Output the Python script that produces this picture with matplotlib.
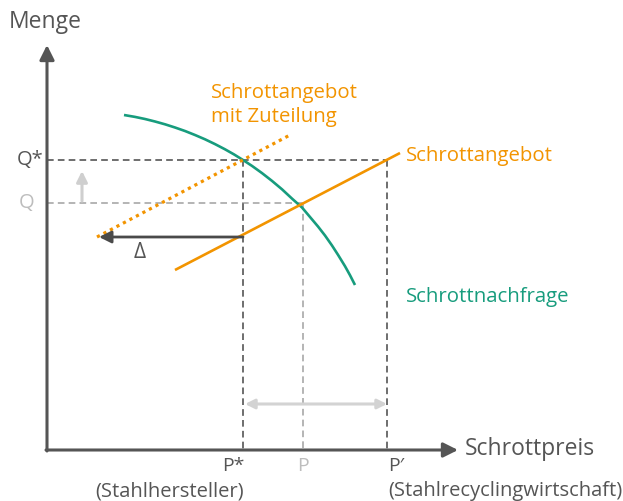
import matplotlib
matplotlib.use("Agg")
import matplotlib.pyplot as plt

plt.rcParams['font.family'] = ['Open Sans', 'DejaVu Sans']

# ---- data (read in picture pixel coordinates: x right, y down) ----
axis_origin = (47, 450)
axis_x_end = 458
axis_y_end = 45

price_labels = ["P*", "P", "P\u2032"]
price_x = [243, 303, 387]
qty_labels = ["Q*", "Q"]
qty_y = [160, 203]

supply_x = [175, 400]
supply_y = [270, 153]
supply_alloc_x = [97, 290]
supply_alloc_y = [237, 135]

demand_x = [124, 135, 145, 155, 165, 175, 185, 195, 205, 215, 225, 234, 243,
            252, 262, 272, 282, 292, 302, 310, 318, 325, 332, 338, 345, 350, 355]
demand_y = [115.0, 116.9, 119.0, 121.5, 124.3, 127.5, 131.0, 135.0, 139.3, 144.1,
            149.3, 154.4, 160.0, 165.9, 173.1, 180.9, 189.3, 198.6, 207.5, 217.0,
            226.5, 235.5, 245.5, 254.8, 266.2, 275.2, 285.0]

delta_y = 237
delta_from_x = 243
delta_to_x = 99
shift_arrow_x = 82
shift_arrow_y = [201, 171]
range_arrow_y = 404
range_arrow_x = [245, 387]

ORANGE = "#F29400"
GREEN = "#179C7D"
DARK = "#555555"
LIGHT = "#BDBDBD"

fig = plt.figure(figsize=(6.23, 5.01), dpi=100)
ax = fig.add_axes([0, 0, 1, 1])
ax.set_xlim(0, 623)
ax.set_ylim(501, 0)
ax.axis("off")

ox, oy = axis_origin
# axes with arrows
ax.annotate("", xy=(ox, axis_y_end), xytext=(ox, oy + 1),
            arrowprops=dict(arrowstyle="-|>", color=DARK, lw=2.2, mutation_scale=22,
                            shrinkA=0, shrinkB=0))
ax.annotate("", xy=(axis_x_end, oy), xytext=(ox - 1, oy),
            arrowprops=dict(arrowstyle="-|>", color=DARK, lw=2.2, mutation_scale=22,
                            shrinkA=0, shrinkB=0))
ax.text(9, 22, "Menge", fontsize=16.5, color=DARK, ha="left", va="center")
ax.text(465, 449, "Schrottpreis", fontsize=16.5, color=DARK, ha="left", va="center")

# guide lines
ax.plot([ox, price_x[2]], [qty_y[0], qty_y[0]], ls=(0, (4, 2.5)), color=DARK, lw=1.2)
ax.plot([ox, price_x[1]], [qty_y[1], qty_y[1]], ls=(0, (4, 2.5)), color="#A8A8A8", lw=1.2)
ax.plot([price_x[0], price_x[0]], [qty_y[0], oy], ls=(0, (4, 2.5)), color=DARK, lw=1.2)
ax.plot([price_x[1], price_x[1]], [qty_y[1], oy], ls=(0, (4, 2.5)), color="#A8A8A8", lw=1.2)
ax.plot([price_x[2], price_x[2]], [qty_y[0], oy], ls=(0, (4, 2.5)), color=DARK, lw=1.2)

# curves
ax.plot(demand_x, demand_y, color=GREEN, lw=1.9, solid_capstyle="butt", solid_joinstyle="round")
ax.plot(supply_x, supply_y, color=ORANGE, lw=1.9, solid_capstyle="butt")
ax.plot(supply_alloc_x, supply_alloc_y, color=ORANGE, lw=2.3, ls=(0, (1, 1.3)))

# delta arrow
ax.annotate("", xy=(delta_to_x, delta_y), xytext=(delta_from_x, delta_y),
            arrowprops=dict(arrowstyle="-|>", color="#4A4A4A", lw=2.0, mutation_scale=18,
                            shrinkA=0, shrinkB=0))
ax.text(140, 252, "\u0394", fontsize=15, color=DARK, ha="center", va="center")

# shift arrow
ax.annotate("", xy=(shift_arrow_x, shift_arrow_y[1]), xytext=(shift_arrow_x, shift_arrow_y[0]),
            arrowprops=dict(arrowstyle="-|>", color="#CFCFCF", lw=2.2, mutation_scale=16,
                            shrinkA=0, shrinkB=0))
# range arrow
ax.annotate("", xy=(range_arrow_x[1], range_arrow_y), xytext=(range_arrow_x[0], range_arrow_y),
            arrowprops=dict(arrowstyle="<|-|>", color="#D3D3D3", lw=2.2, mutation_scale=14,
                            shrinkA=0, shrinkB=0))

# axis labels
ax.text(43, qty_y[0], qty_labels[0], fontsize=14.5, color=DARK, ha="right", va="center")
ax.text(34, qty_y[1], qty_labels[1], fontsize=14.5, color=LIGHT, ha="right", va="center")
ax.text(price_x[0] + 1, 466, price_labels[0], fontsize=14, color=DARK, ha="right", va="center")
ax.text(price_x[1], 466, price_labels[1], fontsize=14, color=LIGHT, ha="center", va="center")
ax.text(price_x[2] + 1, 466, price_labels[2], fontsize=14, color=DARK, ha="left", va="center")
ax.text(price_x[0] + 1, 491, "(Stahlhersteller)", fontsize=14.5, color=DARK, ha="right", va="center")
ax.text(price_x[2] + 1, 491, "(Stahlrecyclingwirtschaft)", fontsize=14.5, color=DARK, ha="left", va="center")

# curve labels
ax.text(211, 105, "Schrottangebot\nmit Zuteilung", fontsize=14.7, color=ORANGE,
        ha="left", va="center", linespacing=1.3)
ax.text(406, 156, "Schrottangebot", fontsize=14.7, color=ORANGE, ha="left", va="center")
ax.text(406, 297, "Schrottnachfrage", fontsize=14.7, color=GREEN, ha="left", va="center")

fig.savefig("out.png", dpi=100)
